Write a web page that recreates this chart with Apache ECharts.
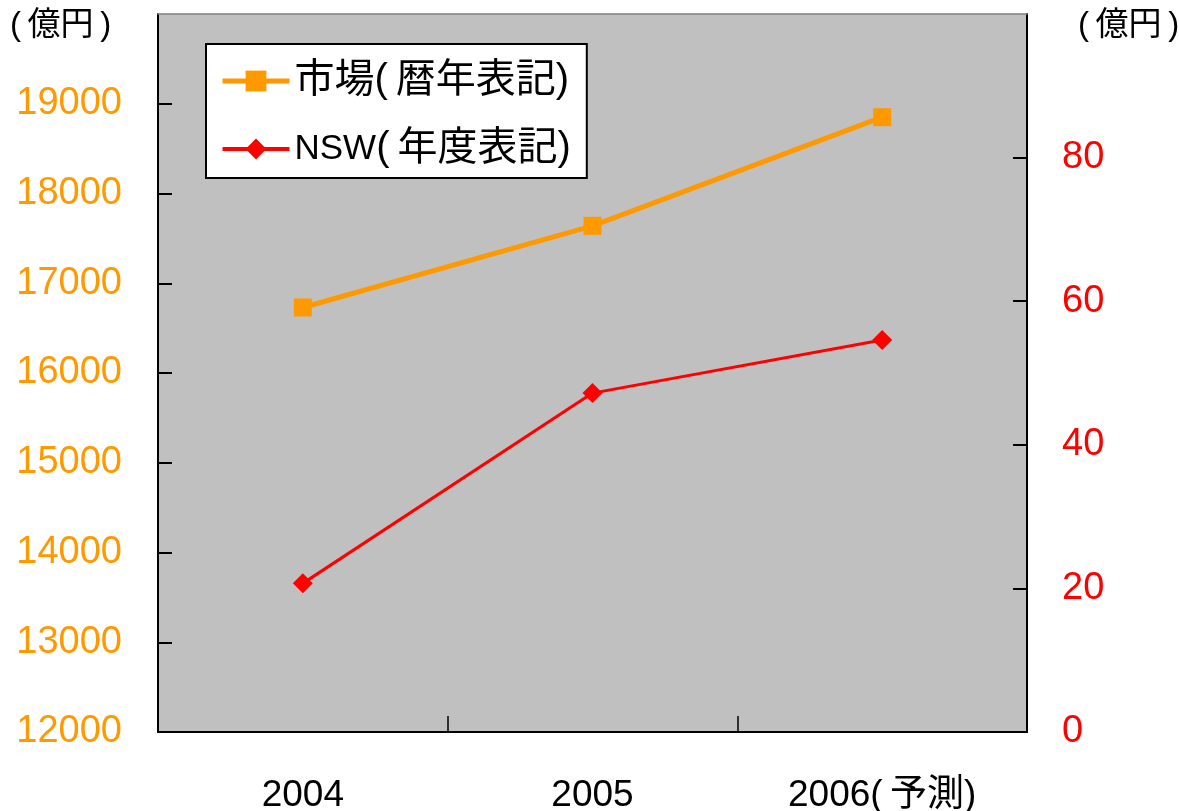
<!DOCTYPE html>
<html><head><meta charset="utf-8">
<script src="https://cdn.jsdelivr.net/npm/echarts@6/dist/echarts.min.js"></script>
<style>html,body{margin:0;padding:0;background:#fff;overflow:hidden}#c{width:1179px;height:811px}</style>
</head><body><div id="c"></div>
<script>
const categories = ['2004', '2005', '2006(\u2009予測)'];
const marketValues = [16730, 17640, 18850];
const nswValues = [20.7, 47.2, 54.6];
const seriesNames = ['市場(\u2009暦年表記)', 'NSW(\u2009年度表記)'];
const unitLabel = '(\u2009億円\u2009)';

const FONT = '"Liberation Sans", "Noto Sans CJK JP", sans-serif';
const chart = echarts.init(document.getElementById('c'), null, {renderer: 'canvas'});
chart.setOption({
  animation: false,
  backgroundColor: '#fff',
  textStyle: {fontFamily: FONT},
  grid: {left: 158, right: 152, top: 14, bottom: 79, show: true,
    outerBoundsMode: 'none', containLabel: false,
    backgroundColor: '#c0c0c0', borderWidth: 0},
  legend: {
    left: 206, top: 44, orient: 'vertical',
    backgroundColor: '#fff', borderColor: '#000', borderWidth: 2, borderRadius: 0,
    padding: [17, 16, 9, 14], itemGap: 28, itemWidth: 67, itemHeight: 26,
    formatter: function (name) {
      if (name.indexOf('NSW') === 0) {
        return '{n|NSW}' + name.slice(3);
      }
      return name;
    },
    textStyle: {fontSize: 40, color: '#000', fontFamily: FONT, lineHeight: 40,
      rich: {n: {fontSize: 35, fontFamily: FONT, color: '#000', lineHeight: 40}}},
    data: [
      {name: seriesNames[0], lineStyle: {width: 5, color: '#FF9900'}},
      {name: seriesNames[1], lineStyle: {width: 4, color: '#FF0000'}}
    ]
  },
  xAxis: [{
    type: 'category', data: categories, boundaryGap: true,
    axisLine: {show: true, lineStyle: {color: '#000', width: 2}},
    axisTick: {show: true, inside: true, length: 16, lineStyle: {color: '#000', width: 1.5}},
    axisLabel: {fontSize: 37, color: '#000', margin: 45, fontFamily: FONT},
    splitLine: {show: false}
  }, {
    type: 'category', data: categories, boundaryGap: true, position: 'top',
    axisLine: {show: true, lineStyle: {color: '#808080', width: 1.5}},
    axisTick: {show: false}, axisLabel: {show: false}, splitLine: {show: false}
  }],
  yAxis: [
    {type: 'value', min: 12000, max: 20000, interval: 1000, position: 'left',
      axisLine: {show: true, lineStyle: {color: '#000', width: 2}},
      axisTick: {show: true, inside: true, length: 14, lineStyle: {color: '#000', width: 2}},
      axisLabel: {fontSize: 38, color: '#FF9900', margin: 36, showMaxLabel: false, fontFamily: FONT,
        formatter: v => String(v)},
      splitLine: {show: false}},
    {type: 'value', min: 0, max: 100, interval: 20, position: 'right',
      axisLine: {show: true, lineStyle: {color: '#000', width: 2}},
      axisTick: {show: true, inside: true, length: 14, lineStyle: {color: '#000', width: 2}},
      axisLabel: {fontSize: 38, color: '#FF0000', margin: 35, showMaxLabel: false, fontFamily: FONT,
        formatter: v => String(v)},
      splitLine: {show: false}}
  ],
  graphic: [
    {type: 'text', left: 10, top: 9, style: {text: unitLabel, fill: '#000', font: '33px ' + FONT}},
    {type: 'text', left: 1078, top: 9, style: {text: unitLabel, fill: '#000', font: '33px ' + FONT}}
  ],
  series: [
    {name: seriesNames[0], type: 'line', xAxisIndex: 0, yAxisIndex: 0, data: marketValues,
      symbol: 'rect', symbolSize: 18,
      lineStyle: {color: '#FF9900', width: 5},
      itemStyle: {color: '#FF9900'}},
    {name: seriesNames[1], type: 'line', xAxisIndex: 0, yAxisIndex: 1, data: nswValues,
      symbol: 'diamond', symbolSize: 20,
      lineStyle: {color: '#FF0000', width: 3},
      itemStyle: {color: '#FF0000'}}
  ]
});
</script></body></html>
